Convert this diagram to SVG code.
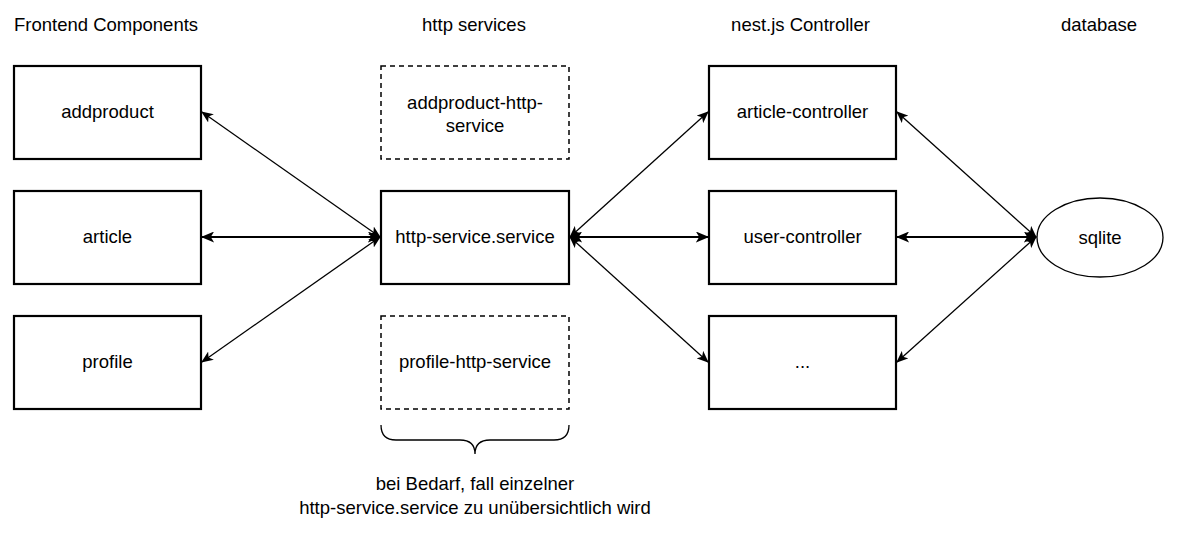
<svg xmlns="http://www.w3.org/2000/svg" width="1182" height="533" viewBox="0 0 1182 533">
<style>
text{font-family:"Liberation Sans",Arial,sans-serif;font-size:18.5px;fill:#000;text-anchor:middle}
.box{fill:#fff;stroke:#000;stroke-width:2.2}
.dash{fill:#fff;stroke:#000;stroke-width:1.5;stroke-dasharray:5 4}
.thin{stroke:#000;stroke-width:1.3;fill:none}
.thick{stroke:#000;stroke-width:2.2;fill:none}
</style>
<defs>
<marker id="ah" viewBox="0 0 12 10" refX="11" refY="5" markerWidth="12" markerHeight="10" markerUnits="userSpaceOnUse" orient="auto-start-reverse">
<path d="M0,0 L12,5 L0,10 L3,5 Z" fill="#000"/>
</marker>
<marker id="ahb" viewBox="0 0 12 10" refX="11" refY="5" markerWidth="14" markerHeight="11" markerUnits="userSpaceOnUse" orient="auto-start-reverse">
<path d="M0,0 L12,5 L0,10 L3,5 Z" fill="#000"/>
</marker>
</defs>
<rect width="1182" height="533" fill="#fff"/>
<g id="headers">
<text x="14" y="31" style="text-anchor:start">Frontend Components</text>
<text x="474" y="31">http services</text>
<text x="800.5" y="31">nest.js Controller</text>
<text x="1099" y="31">database</text>
</g>
<g id="connectors">
<line class="thin" x1="202" y1="112" x2="380" y2="237" marker-start="url(#ah)" marker-end="url(#ah)"/>
<line class="thick" x1="202" y1="237" x2="380" y2="237" marker-start="url(#ahb)" marker-end="url(#ahb)"/>
<line class="thin" x1="202" y1="362" x2="380" y2="237" marker-start="url(#ah)" marker-end="url(#ah)"/>
<line class="thin" x1="570" y1="237" x2="708" y2="112" marker-start="url(#ah)" marker-end="url(#ah)"/>
<line class="thick" x1="570" y1="237" x2="708" y2="237" marker-start="url(#ahb)" marker-end="url(#ahb)"/>
<line class="thin" x1="570" y1="237" x2="708" y2="362" marker-start="url(#ah)" marker-end="url(#ah)"/>
<line class="thin" x1="897" y1="112" x2="1036" y2="237" marker-start="url(#ah)" marker-end="url(#ah)"/>
<line class="thick" x1="897" y1="237" x2="1036" y2="237" marker-start="url(#ahb)" marker-end="url(#ahb)"/>
<line class="thin" x1="897" y1="362" x2="1036" y2="237" marker-start="url(#ah)" marker-end="url(#ah)"/>
</g>
<g id="addproduct"><rect class="box" x="14" y="66" width="187" height="93"/><text x="107.5" y="118">addproduct</text></g>
<g id="article"><rect class="box" x="14" y="191" width="187" height="93"/><text x="107.5" y="243">article</text></g>
<g id="profile"><rect class="box" x="14" y="316" width="187" height="93"/><text x="107.5" y="368">profile</text></g>
<g id="addproduct-http-service"><rect class="dash" x="381" y="66" width="188" height="93"/><text x="475" y="109">addproduct-http-</text><text x="475" y="132">service</text></g>
<g id="http-service"><rect class="box" x="381" y="191" width="188" height="93"/><text x="475" y="243">http-service.service</text></g>
<g id="profile-http-service"><rect class="dash" x="381" y="316" width="188" height="93"/><text x="475" y="368">profile-http-service</text></g>
<g id="article-controller"><rect class="box" x="709" y="66" width="187" height="93"/><text x="802.5" y="118">article-controller</text></g>
<g id="user-controller"><rect class="box" x="709" y="191" width="187" height="93"/><text x="802.5" y="243">user-controller</text></g>
<g id="more-controller"><rect class="box" x="709" y="316" width="187" height="93"/><text x="802.5" y="368">...</text></g>
<g id="sqlite"><ellipse cx="1100" cy="237.5" rx="63" ry="39.5" fill="#fff" stroke="#000" stroke-width="1.3"/><text x="1100" y="244">sqlite</text></g>
<g id="brace">
<path d="M381,425 Q381,440 396,440 L460,440 Q475,440 475,454 Q475,440 490,440 L554,440 Q569,440 569,425" fill="none" stroke="#000" stroke-width="1.3"/>
<text x="475" y="490">bei Bedarf, fall einzelner</text>
<text x="475" y="514">http-service.service zu unübersichtlich wird</text>
</g>
</svg>
